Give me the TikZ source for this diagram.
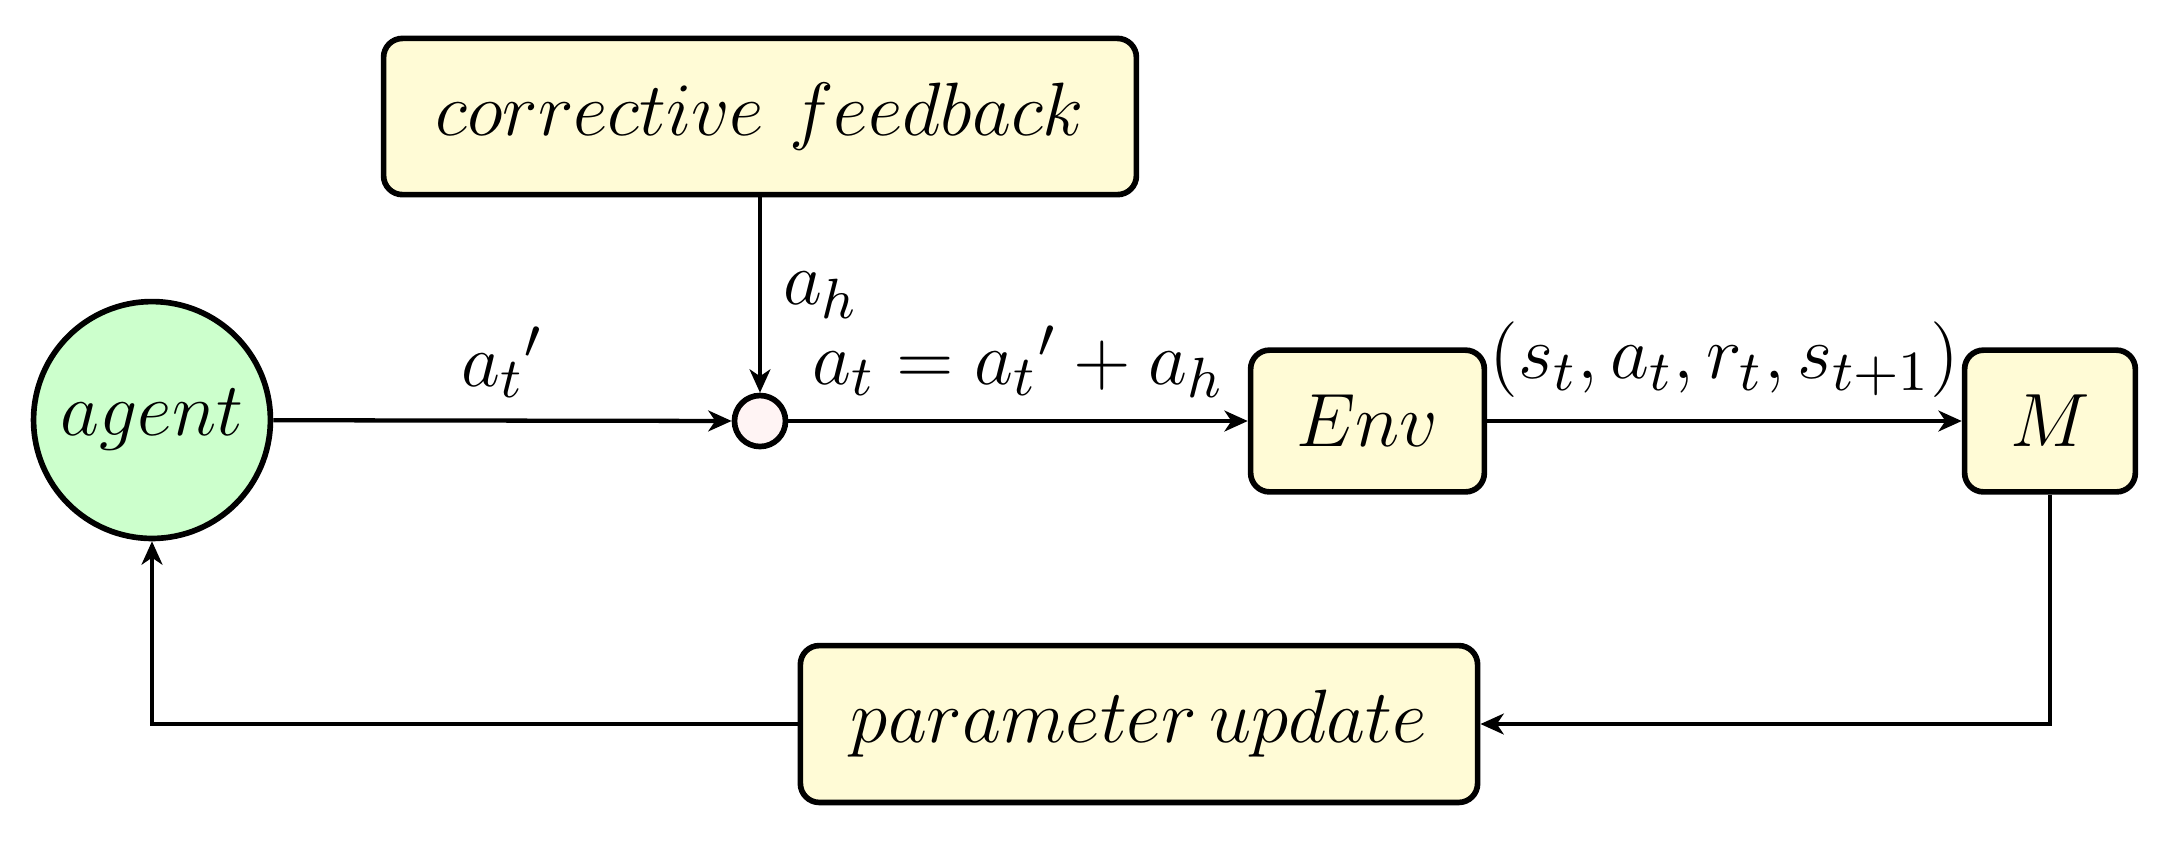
\documentclass[tikz,border=0pt]{standalone}
\usetikzlibrary{arrows.meta}
\definecolor{boxfill}{RGB}{255,251,214}
\definecolor{agentfill}{RGB}{204,255,204}
\definecolor{junctfill}{RGB}{255,244,244}
\tikzset{
  every node/.style={font=\fontsize{12.25}{14.7}\selectfont},
  blockbox/.style={draw, line width=0.9pt, rounded corners=3pt, fill=boxfill, inner sep=0pt},
  agentnode/.style={draw, line width=0.9pt, circle, fill=agentfill, minimum size=37.6pt, inner sep=0pt},
  junction/.style={draw, line width=0.9pt, circle, fill=junctfill, minimum size=8.1pt, inner sep=0pt},
  conn/.style={line width=0.68pt, -{Stealth[length=3.7pt,width=3.3pt,inset=1.1pt]}},
}
\begin{document}
\begin{tikzpicture}[x=0.15873pt, y=-0.15873pt]
\useasboundingbox (0,0) rectangle (2174,843);
\node[agentnode] (agent) at (152,420) {$agent$};
\node[junction] (j) at (760,421) {};
\node[blockbox, minimum width=119.5pt, minimum height=24.8pt] (cf) at (760,116.5) {$corrective\ feedback$};
\node[blockbox, minimum width=37.1pt, minimum height=22.5pt] (env) at (1367.5,421) {$Env$};
\node[blockbox, minimum width=27.1pt, minimum height=22.5pt] (m) at (2050,421) {$M$};
\node[blockbox, minimum width=107.5pt, minimum height=24.9pt] (pu) at (1139,724) {$parameter\,update$};
\draw[conn] (agent) -- node[above] {${a_t}'$} (j);
\draw[conn] (cf) -- node[right] {$a_h$} (j);
\draw[conn] (j) -- node[above] {$a_t = {a_t}' + a_h$} (env);
\draw[conn] (env) -- node[above] {$(s_t, a_t, r_t, s_{t+1})$} (m);
\draw[conn] (m) |- (pu);
\draw[conn] (pu) -| (agent);
\end{tikzpicture}
\end{document}
